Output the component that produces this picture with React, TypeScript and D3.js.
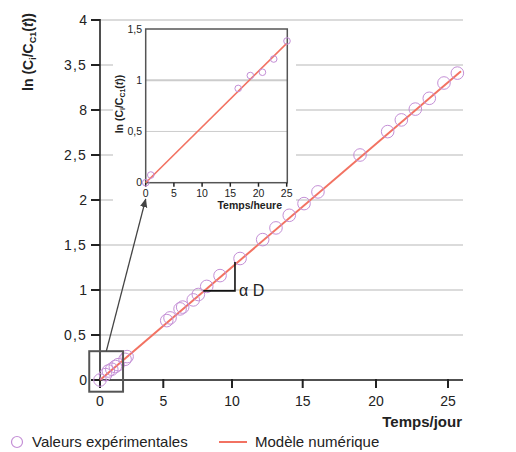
import React from "react";
import * as d3 from "d3";

// ---- data ----
const expDays = [0, 0.44, 0.66, 0.93, 1.21, 1.43, 1.98, 2.14, 5.25, 5.49, 6.22, 6.41, 7.18, 7.55, 8.16, 9.13, 10.57, 12.17, 13.11, 14.05, 15.09, 16.04, 18.91, 20.81, 21.76, 22.73, 23.7, 24.72, 25.65];
const expLn = [0, 0.06, 0.1, 0.12, 0.15, 0.17, 0.23, 0.26, 0.66, 0.69, 0.79, 0.81, 0.89, 0.95, 1.04, 1.16, 1.35, 1.56, 1.69, 1.83, 1.96, 2.09, 2.5, 2.76, 2.89, 3.01, 3.13, 3.3, 3.41];
const modelDays = [0, 25.9];
const modelLn = [0, 3.43];
const xTicks = [0, 5, 10, 15, 20, 25];
const yTicks = [0, 0.5, 1, 1.5, 2, 2.5, 3, 3.5, 4];
const yTickLabels = ["0", "0,5", "1", "1,5", "2", "2,5", "8", "3,5", "4"];

const insetHours = [0, 0.9, 16.4, 18.55, 20.7, 22.7, 25.05];
const insetLn = [0, 0.075, 0.92, 1.046, 1.078, 1.207, 1.383];
const insetModelHours = [0, 25];
const insetModelLn = [0, 1.36];
const insetXTicks = [0, 5, 10, 15, 20, 25];
const insetYTicks = [0, 0.5, 1, 1.5];
const insetYTickLabels = ["0", "0,5", "1", "1,5"];

const slopeDays = [7.91, 10.21];
const slopeLn = [0.99, 1.31];

const PURPLE = "#c48fd6";
const RED = "#f27262";
const FONT = "'Liberation Sans', Arial, sans-serif";

export default function App() {
  // the printed axis is not evenly spaced: piecewise scale through the drawn ticks
  const x = d3.scaleLinear().domain(xTicks).range([100, 163.3, 232, 302.7, 376, 448]);
  const y = d3.scaleLinear().domain([0, 4]).range([380, 20]);
  const ix = d3.scaleLinear().domain([0, 25]).range([145.7, 286.7]);
  const iy = d3.scaleLinear().domain([0, 1.5]).range([182.7, 29]);

  const line = d3.line<number>().x((d, i) => x(modelDays[i])).y((d) => y(d));
  const iline = d3.line<number>().x((d, i) => ix(insetModelHours[i])).y((d) => iy(d));

  return (
    <div style={{ position: "fixed", left: 0, top: 0 }}>
      <svg width={516} height={452} style={{ display: "block", fontFamily: FONT }}>
        <defs>
          <marker id="arr" viewBox="0 0 10 10" refX="9" refY="5" markerWidth="7" markerHeight="7" orient="auto">
            <path d="M0,1 L10,5 L0,9 Z" fill="#444" />
          </marker>
        </defs>
        <rect width={516} height={452} fill="#fff" />
        {/* main gridlines */}
        {yTicks.map((t) => (
          <line key={"g" + t} x1={x(0)} x2={463} y1={y(t)} y2={y(t)} stroke="#cfcfcf" strokeWidth={1.3} />
        ))}
        {/* inset background */}
        <rect x={113} y={24} width={183} height={190} fill="#fff" />
        {/* y axis */}
        <line x1={x(0)} x2={x(0)} y1={19} y2={386} stroke="#222" strokeWidth={1.6} />
        {yTicks.map((t, i) => (
          <g key={"yt" + t}>
            <line x1={91} x2={x(0)} y1={y(t)} y2={y(t)} stroke="#222" strokeWidth={2} />
            <text x={87} y={y(t)} dy="0.35em" textAnchor="end" fontSize={14} fill="#222" letterSpacing={t % 1 ? 1.2 : 0}>
              {yTickLabels[i]}
            </text>
          </g>
        ))}
        {/* x axis */}
        <line x1={92} x2={463} y1={y(0)} y2={y(0)} stroke="#222" strokeWidth={1.6} />
        {xTicks.map((t) => (
          <g key={"xt" + t}>
            <line x1={x(t)} x2={x(t)} y1={y(0) - 1} y2={y(0) + 8} stroke="#222" strokeWidth={2} />
            <text x={x(t)} y={401} dy="0.35em" textAnchor="middle" fontSize={14} fill="#222">
              {t}
            </text>
          </g>
        ))}
        {/* axis titles */}
        <text x={462} y={427} textAnchor="end" fontSize={15} fontWeight="bold" fill="#222">
          Temps/jour
        </text>
        <text transform="translate(33,52) rotate(-90)" textAnchor="middle" fontSize={14} fontWeight="bold" fill="#222">
          ln (C<tspan fontSize={9} dy={3}>i</tspan>
          <tspan dy={-3}>/C</tspan>
          <tspan fontSize={9} dy={3}>C1</tspan>
          <tspan dy={-3}>(</tspan>
          <tspan fontStyle="italic">t</tspan>))
        </text>
        {/* model line */}
        <path d={line(modelLn) || ""} fill="none" stroke={RED} strokeWidth={2} />
        {/* experimental points */}
        {expDays.map((d, i) => (
          <circle key={"p" + i} cx={x(d)} cy={y(expLn[i])} r={6.3} fill="none" stroke={PURPLE} strokeWidth={1} />
        ))}
        {/* slope triangle */}
        <path
          d={`M${x(slopeDays[0])},${y(slopeLn[0])} H${x(slopeDays[1])} V${y(slopeLn[1])}`}
          fill="none"
          stroke="#111"
          strokeWidth={1.6}
        />
        <text x={x(slopeDays[1]) + 4} y={y(slopeLn[0]) + 5} fontSize={16} fill="#222">
          α D
        </text>
        {/* zoom box */}
        <rect x={x(-0.85)} y={y(0.32)} width={x(1.82) - x(-0.85)} height={y(-0.13) - y(0.32)} fill="none" stroke="#555" strokeWidth={2} />
        <line x1={x(0.5)} y1={y(0.32)} x2={ix(0)} y2={iy(-0.16)} stroke="#444" strokeWidth={1.3} markerEnd="url(#arr)" />

        {/* inset */}
        {insetYTicks.slice(1, 3).map((t) => (
          <line key={"ig" + t} x1={ix(0)} x2={ix(25) + 0.6} y1={iy(t)} y2={iy(t)} stroke="#cccccc" strokeWidth={t === 1 ? 2 : 1} />
        ))}
        <rect x={ix(0)} y={iy(1.5)} width={ix(25) + 0.6 - ix(0)} height={iy(0) - iy(1.5)} fill="none" stroke="#555" strokeWidth={1.5} />
        {insetYTicks.map((t, i) => (
          <text key={"iyt" + t} x={142} y={iy(t)} dy="0.35em" textAnchor="end" fontSize={10.5} fill="#222">
            {insetYTickLabels[i]}
          </text>
        ))}
        {insetXTicks.map((t) => (
          <g key={"ixt" + t}>
            <line x1={ix(t)} x2={ix(t)} y1={iy(0)} y2={iy(0) + 4} stroke="#222" strokeWidth={1.5} />
            <text x={ix(t)} y={193} dy="0.35em" textAnchor="middle" fontSize={10.5} fill="#222">
              {t}
            </text>
          </g>
        ))}
        <text x={282} y={209} textAnchor="end" fontSize={10.5} fontWeight="bold" fill="#222">
          Temps/heure
        </text>
        <text transform="translate(123,104) rotate(-90)" textAnchor="middle" fontSize={10.5} fontWeight="bold" fill="#222">
          ln (C<tspan fontSize={7} dy={2}>i</tspan>
          <tspan dy={-2}>/C</tspan>
          <tspan fontSize={7} dy={2}>C1</tspan>
          <tspan dy={-2}>(</tspan>
          <tspan fontStyle="italic">t</tspan>))
        </text>
        <path d={iline(insetModelLn) || ""} fill="none" stroke={RED} strokeWidth={1.6} />
        {insetHours.map((h, i) => (
          <circle key={"ip" + i} cx={ix(h)} cy={iy(insetLn[i])} r={3.3} fill="none" stroke={PURPLE} strokeWidth={1} />
        ))}

        {/* legend */}
        <circle cx={17} cy={442} r={5.5} fill="none" stroke={PURPLE} strokeWidth={1.2} />
        <text x={32} y={447} fontSize={15} fill="#222">
          Valeurs expérimentales
        </text>
        <line x1={219} x2={247} y1={442} y2={442} stroke={RED} strokeWidth={2} />
        <text x={255} y={447} fontSize={15} fill="#222">
          Modèle numérique
        </text>
      </svg>
    </div>
  );
}
